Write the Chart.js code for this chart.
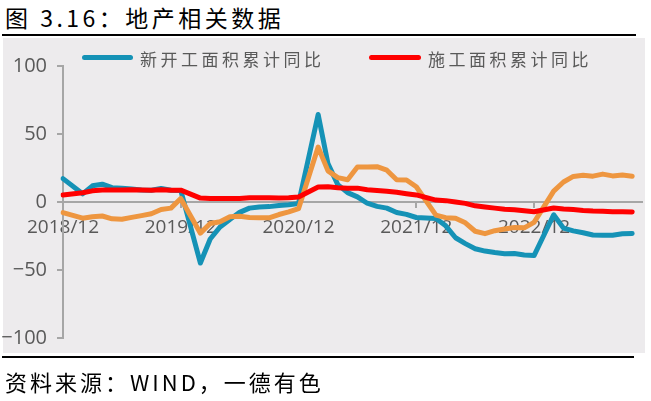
<!DOCTYPE html>
<html>
<head>
<meta charset="utf-8">
<script src="https://cdn.jsdelivr.net/npm/chart.js@4.4.1/dist/chart.umd.min.js"></script>
<style>
  body { margin: 0; width: 651px; height: 401px; background: #fff; position: relative; overflow: hidden; font-family: "Noto Sans CJK SC", sans-serif; }
  .title { position: absolute; left: 5px; top: 0px; font-size: 23px; letter-spacing: 3.5px; color: #000; white-space: nowrap; }
  .rule { position: absolute; left: 2px; height: 2px; background: #000; }
  .panel { position: absolute; left: 3px; top: 38px; width: 642px; height: 315px; background: #edebed; }
  .chart { position: absolute; left: 0; top: 0; width: 651px; height: 401px; }
  .leg { position: absolute; top: 46px; font-size: 17px; letter-spacing: 3.5px; color: #595959; white-space: nowrap; }
  .sw { position: absolute; height: 5px; border-radius: 3px; top: 55px; }
  .foot { position: absolute; left: 5px; top: 365px; font-size: 22px; letter-spacing: 3px; color: #000; white-space: nowrap; }
</style>
</head>
<body>
<div class="title">图 3.16：地产相关数据</div>
<div class="rule" style="top:34px;width:634px"></div>
<div class="panel"></div>
<div class="chart"><canvas id="myChart" width="651" height="401"></canvas></div>
<div class="sw" style="left:82px;width:51px;background:#1592b6"></div>
<div class="leg" style="left:140px">新开工面积累计同比</div>
<div class="sw" style="left:369px;width:52px;background:#ff0000"></div>
<div class="leg" style="left:428px">施工面积累计同比</div>
<div class="rule" style="top:356px;width:632px"></div>
<div class="foot">资料来源：WIND，一德有色</div>
<script>
// months 2018/12 .. 2023/11 (last one empty, keeps room at the right end)
const months = []
for (let y = 2018, m = 12; months.length < 60; m++) {
    if (m > 12) { m = 1; y++ }
    months.push(y + '/' + m)
}
const tickLabels = ['2018/12', '2019/12', '2020/12', '2021/12', '2022/12']

const newStart = [17.2, null, 6.0, 11.9, 13.1, 10.5, 10.1, 9.5, 8.9, 8.6, 10.0, 8.6,
    8.5, null, -44.9, -27.2, -18.4, -12.8, -7.6, -4.5, -3.6, -3.4, -2.6, -2.0,
    -1.2, null, 64.3, 28.2, 12.8, 6.9, 3.8, -0.9, -3.2, -4.5, -7.7, -9.1,
    -11.4, null, -12.2, -17.5, -26.3, -30.6, -34.4, -36.1, -37.2, -38.0, -37.8, -38.9,
    -39.4, null, -9.4, -19.2, -21.2, -22.6, -24.3, -24.5, -24.4, -23.4, -23.2, null]

const underConstr = [5.2, null, 6.8, 8.2, 8.8, 8.8, 8.8, 9.0, 8.8, 8.7, 9.0, 8.7,
    8.7, null, 2.9, 2.6, 2.5, 2.6, 2.6, 3.1, 3.2, 3.1, 3.0, 3.2,
    3.7, null, 11.0, 11.2, 10.5, 10.1, 10.2, 9.0, 8.4, 7.9, 7.1, 6.1,
    5.2, null, 1.4, 1.0, 0.0, -1.0, -2.8, -3.7, -4.5, -5.3, -5.7, -6.5,
    -7.2, null, -4.4, -5.2, -5.6, -6.2, -6.6, -6.8, -7.1, -7.1, -7.3, null]

const completed = [-7.8, null, -11.9, -10.8, -10.3, -12.4, -12.7, -11.3, -10.0, -8.6, -5.5, -4.5,
    2.6, null, -22.9, -15.8, -14.5, -10.9, -10.5, -11.4, -11.6, -11.6, -9.2, -7.3,
    -4.9, null, 40.4, 22.9, 17.9, 16.4, 25.7, 25.7, 26.0, 23.4, 16.3, 16.2,
    11.2, null, -9.7, -11.5, -11.9, -15.3, -21.5, -23.3, -21.1, -19.9, -18.7, -19.0,
    -15.0, null, 8.0, 14.7, 18.8, 19.6, 19.0, 20.5, 19.2, 19.8, 19.0, null]

const axisGray = '#a6a6a6'
const textGray = '#595959'
Chart.defaults.font.family = 'Open Sans'

function lineSet(label, data, color, order) {
    return {
        label: label,
        data: data,
        borderColor: color,
        backgroundColor: color,
        borderWidth: 5,
        pointRadius: 0,
        tension: 0,
        spanGaps: true,
        borderJoinStyle: 'round',
        borderCapStyle: 'round',
        order: order
    }
}

new Chart(document.querySelector('#myChart'), {
    type: 'line',
    data: {
        labels: months,
        datasets: [
            lineSet('施工面积累计同比', underConstr, '#ff0000', 1),
            lineSet('竣工面积累计同比', completed, '#ee9640', 2),
            lineSet('新开工面积累计同比', newStart, '#1592b6', 3)
        ]
    },
    options: {
        responsive: false,
        animation: false,
        layout: { padding: { left: 0, right: 7, top: 66, bottom: 63 } },
        plugins: { legend: { display: false }, tooltip: { enabled: false } },
        scales: {
            x: {
                position: { y: 0 },
                afterFit: s => { s.height = 0 },
                border: { color: axisGray, width: 2 },
                grid: {
                    drawOnChartArea: false,
                    tickLength: 5,
                    lineWidth: 2,
                    color: c => tickLabels.includes(months[c.index]) ? axisGray : 'rgba(0,0,0,0)'
                },
                ticks: {
                    autoSkip: false,
                    maxRotation: 0,
                    padding: 9,
                    color: textGray,
                    font: { size: 19 },
                    callback: (v, i) => tickLabels.includes(months[i]) ? months[i] : ''
                }
            },
            y: {
                min: -100,
                max: 100,
                afterFit: s => { s.width = 63 },
                border: { color: axisGray, width: 2 },
                grid: { drawOnChartArea: false, tickLength: 6, lineWidth: 2, color: axisGray },
                ticks: {
                    stepSize: 50,
                    padding: 10,
                    color: textGray,
                    font: { size: 20 },
                    callback: v => v < 0 ? '\u2212' + (-v) : String(v)
                }
            }
        }
    }
})
</script>
</body>
</html>
